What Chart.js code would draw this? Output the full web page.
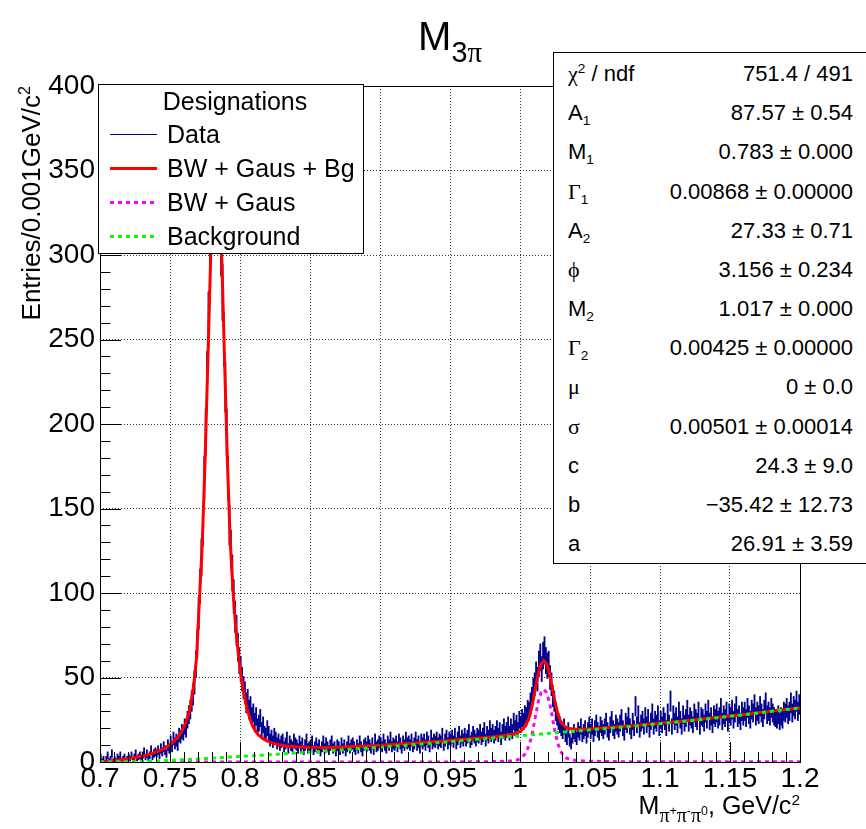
<!DOCTYPE html>
<html>
<head>
<meta charset="utf-8">
<title>M3pi</title>
<script src="https://cdn.jsdelivr.net/npm/chart.js@4.4.1/dist/chart.umd.min.js"></script>
<style>
  html, body { margin:0; padding:0; background:#fff; }
  #wrap { position:relative; width:866px; height:829px; overflow:hidden; font-family:"Liberation Sans", Arial, Helvetica, sans-serif; color:#000; }
  #chart { position:absolute; left:0; top:0; }
  .abs { position:absolute; white-space:nowrap; }
  .gr { font-family:"Liberation Serif","DejaVu Serif",serif; }
  sub, sup { font-size:62%; line-height:0; position:relative; vertical-align:baseline; }
  sub { top:0.35em; }
  sup { top:-0.6em; }
  #title sub { font-size:72%; top:0.42em; }
  #xtitle sub { font-size:80%; top:0.38em; }
  #xtitle sub sup { font-size:62%; top:-0.5em; }
  #legend { left:98px; top:84px; width:264px; height:168px; border:1px solid #000; background:#fff; font-size:25px; }
  #legend .txt { position:absolute; left:68px; height:30px; line-height:30px; white-space:nowrap; }
  #legend .smp { position:absolute; left:11px; width:47px; }
  #stats { left:553px; top:52px; width:340px; height:510px; border:1px solid #000; background:#fff; }
  .sl, .sv { position:absolute; font-size:22px; height:28px; line-height:28px; white-space:nowrap; }
  .sl { left:568px; }
  .sv { right:13px; text-align:right; }
</style>
</head>
<body>
<div id="wrap">
  <canvas id="chart" width="866" height="829"></canvas>

  <div id="title" class="abs" style="left:0;width:900px;text-align:center;top:12px;font-size:40px;line-height:48px;">M<sub>3<span class="gr">π</span></sub></div>

  <div class="abs" style="left:16px;top:336px;width:250px;height:30px;line-height:30px;font-size:26px;text-align:right;transform-origin:0 0;transform:rotate(-90deg);">Entries/0.001GeV/c<sup>2</sup></div>

  <div id="xtitle" class="abs" style="right:66px;top:790px;height:30px;line-height:30px;font-size:25px;text-align:right;">M<sub><span class="gr">π</span><sup>+</sup><span class="gr">π</span><sup>-</sup><span class="gr">π</span><sup>0</sup></sub>, GeV/c<sup>2</sup></div>

  <div id="legend" class="abs">
    <div class="txt" style="left:4px;width:264px;text-align:center;top:1px;">Designations</div>
    <div class="smp" style="top:49px;height:1px;background:#00008c;"></div>
    <div class="txt" style="top:34px;">Data</div>
    <div class="smp" style="top:82px;height:3px;background:#ff0000;"></div>
    <div class="txt" style="top:68px;">BW + Gaus + Bg</div>
    <div class="smp" style="top:116px;height:3px;background:repeating-linear-gradient(to right,#ff00ff 0 4px,transparent 4px 8px);"></div>
    <div class="txt" style="top:102px;">BW + Gaus</div>
    <div class="smp" style="top:150px;height:3px;background:repeating-linear-gradient(to right,#00ff00 0 4px,transparent 4px 8px);"></div>
    <div class="txt" style="top:136px;">Background</div>
  </div>

  <div id="stats" class="abs"></div>
  <div id="statRows"></div>
</div>

<script>
// ---------------- data ----------------
// histogram: 500 bins of 0.001 GeV/c^2 from 0.700 to 1.200 (counts per bin)
const binLow = 0.7;
const binWidth = 0.001;
const counts = [
  3,1,2,0,2,4,1,2,5,1,          // 0.700
  2,1,3,2,4,1,2,3,1,2,          // 0.710
  3,2,4,1,3,5,2,3,4,2,          // 0.720
  4,6,3,5,2,4,7,3,5,6,          // 0.730
  5,7,4,8,6,9,7,5,10,8,         // 0.740
  12,9,14,11,13,10,16,15,18,17, // 0.750
  21,19,25,28,31,36,40,47,58,70,          // 0.760
  88,104,121,140,168,195,228,262,290,318, // 0.770
  336,352,360,355,349,330,305,278,250,222,// 0.780
  195,168,140,126,112,98,86,78,68,60,     // 0.790
  55,49,44,41,35,37,31,33,27,29,          // 0.800
  24,27,21,23,26,19,22,17,16,20,          // 0.810
  17,13,15,12,16,14,11,13,10,12,          // 0.820
  13,9,11,14,8,12,10,9,13,11,   // 0.830
  10,8,12,9,11,7,10,13,8,9,     // 0.840
  10,12,7,9,11,8,10,6,9,12,     // 0.850
  8,11,9,7,10,12,8,9,6,10,      // 0.860
  9,7,11,8,10,6,9,12,8,10,      // 0.870
  11,9,7,10,8,12,9,6,10,11,     // 0.880
  9,12,10,8,11,7,13,9,10,12,    // 0.890
  11,9,13,10,8,12,10,14,9,11,   // 0.900
  10,12,9,13,11,8,12,10,14,11,  // 0.910
  12,10,13,9,11,14,10,12,8,13,  // 0.920
  11,13,10,14,12,9,15,11,13,12, // 0.930
  14,11,13,12,16,10,13,15,11,14,// 0.940
  13,15,12,16,11,14,17,12,15,13,// 0.950
  16,13,15,18,12,14,17,15,13,16,// 0.960
  15,18,14,16,19,13,17,15,20,16,// 0.970
  18,15,17,20,16,19,14,18,21,17,// 0.980
  19,22,17,21,18,24,20,23,19,25,// 0.990
  22,26,24,28,27,31,30,35,38,43,// 1.000
  46,52,49,58,62,55,63,66,60,57,// 1.010
  58,50,46,39,36,30,27,24,22,20,// 1.020
  18,21,16,14,19,13,11,15,18,16,// 1.030
  14,19,17,21,16,18,20,15,19,22,// 1.040
  18,21,16,20,23,19,17,22,20,18,// 1.050
  21,24,19,17,22,25,20,18,23,21,// 1.060
  19,23,26,20,17,24,22,27,21,18,// 1.070
  24,20,33,22,28,19,23,25,21,27,// 1.080
  22,26,19,24,29,21,25,23,28,20,// 1.090
  25,22,27,24,20,29,23,36,21,28,// 1.100
  24,27,22,30,25,21,28,23,26,31,// 1.110
  23,27,25,22,29,26,24,30,21,27,// 1.120
  26,23,29,25,31,24,27,22,28,26,// 1.130
  29,25,27,32,24,28,26,30,23,29,// 1.140
  27,31,25,29,33,26,28,24,30,27,// 1.150
  30,26,32,28,25,31,29,34,27,30,// 1.160
  28,33,29,26,31,35,28,30,27,32,// 1.170
  29,27,26,25,28,24,27,25,30,29,// 1.180
  32,28,30,35,29,33,31,36,30,34 // 1.190
];

// fit curves (x in GeV/c^2)
const fitX = [
  0.700,0.705,0.710,0.715,0.720,0.725,0.730,0.735,0.740,0.745,
  0.750,0.753,0.756,0.759,0.761,0.763,0.765,0.767,0.769,0.771,
  0.773,0.775,0.777,0.779,0.781,0.783,0.785,0.787,0.789,0.791,
  0.793,0.795,0.797,0.799,0.801,0.803,0.805,0.807,0.809,0.811,
  0.813,0.816,0.819,0.823,0.828,0.833,0.840,0.850,0.860,0.870,
  0.880,0.890,0.900,0.910,0.920,0.930,0.940,0.950,0.960,0.970,
  0.980,0.985,0.990,0.995,0.998,1.001,1.004,1.007,1.009,1.011,
  1.013,1.015,1.017,1.019,1.021,1.023,1.025,1.027,1.029,1.031,
  1.033,1.035,1.038,1.042,1.046,1.050,1.060,1.070,1.080,1.090,
  1.100,1.110,1.120,1.130,1.140,1.150,1.160,1.170,1.180,1.190,
  1.200
];
const fitTotal = [ // BW + Gaus + Bg (red)
  0.3,0.5,0.9,1.4,2.0,2.7,3.5,4.5,5.8,7.6,
  10.2,12.4,15.2,19.0,22.5,27.5,35,46,62,96,
  128,177,236,297,343,357,344,298,237,178,
  131,101,79,62,49.5,39.5,31.5,25.8,21.3,18.3,
  16.1,14.1,12.6,11.3,10.2,9.5,9.0,8.7,8.6,8.8,
  9.1,9.5,9.9,10.4,10.9,11.5,12.1,12.7,13.4,14.1,
  14.8,15.3,15.8,16.5,17.2,18.8,21.3,27.4,34.5,43.6,
  52.2,57.9,60.0,58.0,52.7,44.3,35.5,28.6,24.1,21.7,
  20.4,19.8,19.5,19.4,19.4,19.6,20.2,20.8,21.4,22.2,
  23.0,23.7,24.5,25.4,26.3,27.2,28.1,29.1,30.1,31.1,
  32.1
];
const fitSignal = [ // BW + Gaus (magenta)
  0,0,0,0,0,0,0,0,0,0,
  0,0,0,0,0,0,0,0,0,0,
  0,0,0,0,0,0,0,0,0,0,
  0,0,0,0,0,0,0,0,0,0,
  0,0,0,0,0,0,0,0,0,0,
  0,0,0,0,0,0,0,0.05,0.1,0.15,
  0.25,0.35,0.45,0.7,1.2,2.4,5.0,11,18,27,
  35.5,41,43,41,35.5,27,18,11,6.4,3.8,
  2.4,1.7,1.2,0.8,0.55,0.45,0.3,0.2,0.15,0.1,
  0.1,0.1,0.1,0.1,0.1,0.1,0.1,0.1,0.1,0.1,
  0.1
];
const fitBackground = [ // Background (green)
  0,0.01,0.04,0.09,0.15,0.24,0.34,0.46,0.6,0.78,
  0.97,1.08,1.2,1.32,1.4,1.48,1.56,1.65,1.74,1.83,
  1.92,2.01,2.1,2.2,2.3,2.4,2.5,2.6,2.7,2.8,
  2.9,3.0,3.1,3.2,3.3,3.4,3.5,3.6,3.7,3.8,
  3.9,4.05,4.2,4.4,4.65,4.9,5.3,5.85,6.4,7.0,
  7.6,8.2,8.8,9.4,10.0,10.7,11.3,12.0,12.7,13.4,
  14.1,14.5,14.9,15.2,15.4,15.6,15.8,16.0,16.2,16.3,
  16.4,16.6,16.7,16.8,17.0,17.1,17.3,17.4,17.5,17.7,
  17.8,17.9,18.1,18.4,18.7,19.0,19.7,20.4,21.1,21.9,
  22.7,23.5,24.3,25.2,26.1,27.0,28.0,29.0,30.0,31.0,
  32.0
];

// axis ticks and labels
const xTicks = [0.7,0.75,0.8,0.85,0.9,0.95,1,1.05,1.1,1.15,1.2];
const xTickLabels = ['0.7','0.75','0.8','0.85','0.9','0.95','1','1.05','1.1','1.15','1.2'];
const yTicks = [0,50,100,150,200,250,300,350,400];
const yTickLabels = ['0','50','100','150','200','250','300','350','400'];

// fit statistics box
const statLabels = [
  '<span class="gr">χ</span><sup>2</sup> / ndf',
  'A<sub>1</sub>', 'M<sub>1</sub>', '<span class="gr">Γ</span><sub>1</sub>',
  'A<sub>2</sub>', '<span class="gr">ϕ</span>', 'M<sub>2</sub>', '<span class="gr">Γ</span><sub>2</sub>',
  '<span class="gr">μ</span>', '<span class="gr">σ</span>', 'c', 'b', 'a'
];
const statValues = [
  '751.4 / 491', '87.57 ± 0.54', '0.783 ± 0.000', '0.00868 ± 0.00000',
  '27.33 ± 0.71', '3.156 ± 0.234', '1.017 ± 0.000', '0.00425 ± 0.00000',
  '0 ± 0.0', '0.00501 ± 0.00014', '24.3 ± 9.0', '−35.42 ± 12.73', '26.91 ± 3.59'
];

// ---------------- stats rows ----------------
(function(){
  const host = document.getElementById('statRows');
  let html = '';
  for (let k = 0; k < statLabels.length; k++) {
    const top = Math.round(74 + 39.17 * k - 14);
    html += '<div class="sl" style="top:' + top + 'px">' + statLabels[k] + '</div>';
    html += '<div class="sv" style="top:' + top + 'px">' + statValues[k] + '</div>';
  }
  host.innerHTML = html;
})();

// ---------------- chart ----------------
const binCenters = counts.map((_, i) => +(binLow + binWidth * (i + 0.5)).toFixed(4));
const errorBars = counts.map((n, i) => ({ x: binCenters[i], y: [n - Math.sqrt(n), n + Math.sqrt(n)] }));
const curve = arr => fitX.map((x, i) => ({ x: x, y: arr[i] }));

const frameAndTicks = {
  id: 'frameAndTicks',
  afterDatasetsDraw(chart) {
    const { ctx, chartArea: a, scales } = chart;
    const xs = scales.x, ys = scales.y;
    ctx.save();
    ctx.strokeStyle = '#000';
    ctx.lineWidth = 1;
    ctx.beginPath();
    for (let i = 0; i <= 50; i++) {
      const v = 0.7 + i * 0.01;
      const px = Math.round(xs.getPixelForValue(v)) + 0.5;
      const len = (i % 5 === 0) ? 20 : 10;
      ctx.moveTo(px, a.bottom);
      ctx.lineTo(px, a.bottom - len);
    }
    for (let i = 0; i <= 40; i++) {
      const v = i * 10;
      const py = Math.round(ys.getPixelForValue(v)) + 0.5;
      const len = (i % 5 === 0) ? 21 : 10.5;
      ctx.moveTo(a.left, py);
      ctx.lineTo(a.left + len, py);
    }
    ctx.stroke();
    ctx.strokeRect(Math.round(a.left) + 0.5, Math.round(a.top) + 0.5,
                   Math.round(a.right - a.left), Math.round(a.bottom - a.top));
    ctx.restore();
  }
};

const tickFont = { family: '"Liberation Sans", Arial, sans-serif', size: 28 };

new Chart(document.getElementById('chart'), {
  type: 'bar',
  data: {
    datasets: [
      { type: 'line', label: 'Background', data: curve(fitBackground), borderColor: '#00ff00',
        borderWidth: 3, borderDash: [4, 4], pointRadius: 0, tension: 0, fill: false, order: 1 },
      { type: 'line', label: 'BW + Gaus', data: curve(fitSignal), borderColor: '#ff00ff',
        borderWidth: 3, borderDash: [4, 4], pointRadius: 0, tension: 0, fill: false, order: 2 },
      { type: 'line', label: 'BW + Gaus + Bg', data: curve(fitTotal), borderColor: '#ff0000',
        borderWidth: 3, pointRadius: 0, tension: 0, fill: false, order: 3 },
      { type: 'bar', label: 'Data', data: errorBars, backgroundColor: '#000090',
        borderWidth: 0, barThickness: 1.2, order: 4 }
    ]
  },
  options: {
    responsive: false,
    animation: false,
    devicePixelRatio: 1,
    layout: { padding: { top: 86, right: 66, bottom: 0, left: 0 } },
    plugins: { legend: { display: false }, title: { display: false }, tooltip: { enabled: false } },
    scales: {
      x: {
        type: 'linear', min: 0.7, max: 1.2, offset: false,
        afterBuildTicks: s => { s.ticks = xTicks.map(v => ({ value: v })); },
        afterFit: s => { s.height = 67; },
        grid: { color: '#333', lineWidth: 1, drawTicks: false, offset: false },
        border: { display: false, dash: [1, 2] },
        ticks: { autoSkip: false, maxRotation: 0, minRotation: 0, padding: 0, color: '#000', font: tickFont,
                 callback: (v, i) => xTickLabels[i] }
      },
      y: {
        type: 'linear', min: 0, max: 400,
        afterBuildTicks: s => { s.ticks = yTicks.map(v => ({ value: v })); },
        afterFit: s => { s.width = 100; },
        grid: { color: '#333', lineWidth: 1, drawTicks: false },
        border: { display: false, dash: [1, 2] },
        ticks: { padding: 5, color: '#000', font: tickFont, callback: (v, i) => yTickLabels[i] }
      }
    }
  },
  plugins: [frameAndTicks]
});
</script>
</body>
</html>
